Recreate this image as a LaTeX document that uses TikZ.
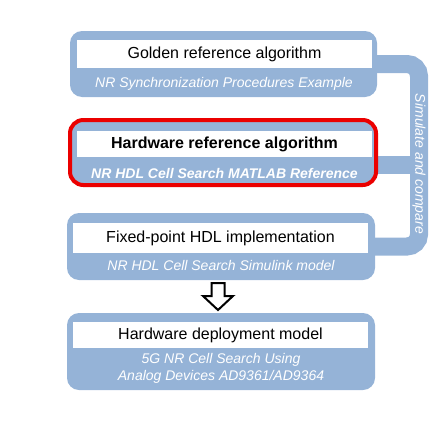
\documentclass[tikz,border=0pt]{standalone}
\usepackage{fontspec}
\setmainfont{Liberation Sans}
\usetikzlibrary{positioning,calc,backgrounds}
\definecolor{panelblue}{RGB}{149,179,215}
\definecolor{hilitered}{RGB}{235,0,0}

\begin{document}
\begin{tikzpicture}[x=0.75pt, y=-0.75pt,
    panel/.style 2 args={fill=panelblue, rounded corners=9pt, minimum width=#1*0.75pt, minimum height=#2*0.75pt, inner sep=0pt, outer sep=0pt},
    title/.style 2 args={fill=white, minimum width=#1*0.75pt, minimum height=#2*0.75pt, inner sep=0pt, font=\fontsize{12}{14}\selectfont},
    sub/.style={text=white, align=center, font=\fontsize{10.5}{12.75}\selectfont\itshape},
    simline/.style={draw=panelblue, line width=13.5pt, rounded corners=9pt}]
    \useasboundingbox (0,0) rectangle (446,432);

    \node (golden) [panel={307}{66}] at (223.5,64) {};
    \node (goldentitle) [title={295}{28}] at (224.5,54) {Golden reference algorithm};
    \node (goldensub) [sub] at (224,84) {NR Synchronization Procedures Example};

    \node (hwref) [panel={306}{65}, draw=hilitered, line width=3pt, rounded corners=10pt] at (223,152.5) {};
    \node (hwreftitle) [title={295}{26}, font=\fontsize{12}{14}\selectfont\bfseries] at (224.5,144) {Hardware reference algorithm};
    \node (hwrefsub) [sub, font=\fontsize{10.5}{12.75}\selectfont\bfseries\itshape] at (224.5,173) {NR HDL Cell Search MATLAB Reference};

    \node (fixed) [panel={308}{67}] at (221,246.5) {};
    \node (fixedtitle) [title={295}{30}] at (220.5,238) {Fixed-point HDL implementation};
    \node (fixedsub) [sub] at (221,265) {NR HDL Cell Search Simulink model};

    \node (deploy) [panel={308}{77}] at (221,351.5) {};
    \node (deploytitle) [title={295}{26}] at (220.5,335) {Hardware deployment model};
    \node (deploysub) [sub] at (221,368.5) {5G NR Cell Search Using\\Analog Devices AD9361/AD9364};

    \begin{scope}[on background layer]
        \coordinate (rail) at (419,0);
        \coordinate (tap) at (377,165);
        \draw[simline] (golden.east) -| (rail |- fixed.east) -- (fixed.east);
        \draw[simline, rounded corners=0pt] (hwref.east |- tap) -- (rail |- tap);
    \end{scope}
    \node (simtext) [sub, rotate=-90] at (419,164) {Simulate and compare};

    \coordinate (gap) at ([xshift=-2.25pt]$(fixed.south)!0.5!(deploy.north)$);
    \draw[fill=white, line width=1.5pt, line join=miter] (gap) ++(-6.5,-13.5) -- ++(13,0) -- ++(0,13) -- ++(8.5,0) -- ++(-15,14) -- ++(-15,-14) -- ++(8.5,0) -- cycle;
\end{tikzpicture}
\end{document}
